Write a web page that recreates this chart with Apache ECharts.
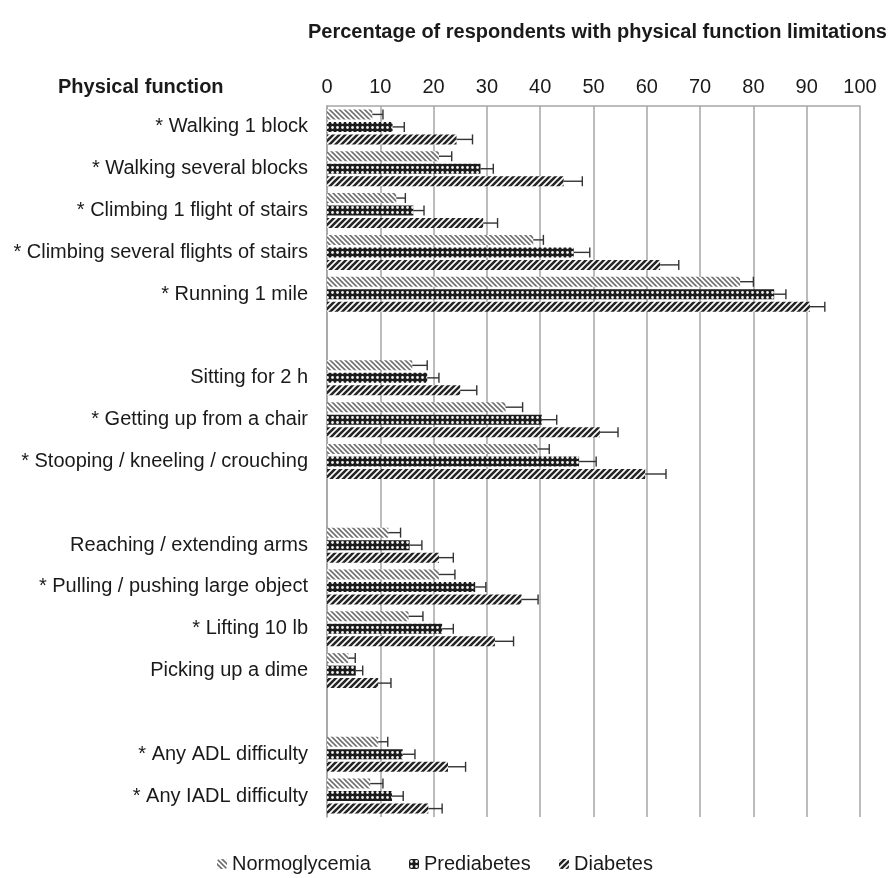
<!DOCTYPE html>
<html><head><meta charset="utf-8">
<script src="https://cdn.jsdelivr.net/npm/echarts@6/dist/echarts.min.js"></script>
<style>html,body{margin:0;padding:0;background:#fff}#c{width:892px;height:878px}</style>
</head><body><div id="c"></div>
<script>
const categories = ['* Walking 1 block','* Walking several blocks','* Climbing 1 flight of stairs','* Climbing several flights of stairs','* Running 1 mile',' ',
  'Sitting for 2 h','* Getting up from a chair','* Stooping / kneeling / crouching','  ',
  'Reaching / extending arms','* Pulling / pushing large object','* Lifting 10 lb','Picking up a dime','   ',
  '* Any ADL difficulty','* Any IADL difficulty'];
const seriesNames = ['Normoglycemia','Prediabetes','Diabetes'];
const normo    = [8.5, 21, 13, 38.7, 77.5, null, 16, 33.5, 39.5, null, 11.5, 21, 15.3, 4, null, 9.6, 8.1];
const normoErr = [2, 2.4, 1.7, 1.9, 2.5, null, 2.8, 3.2, 2.2, null, 2.3, 3, 2.7, 1.3, null, 1.8, 2.4];
const pre      = [12.3, 28.8, 16.2, 46.3, 83.9, null, 18.8, 40.3, 47.3, null, 15.5, 27.8, 21.6, 5.4, null, 14.2, 12.2];
const preErr   = [2.2, 2.4, 2, 3, 2.2, null, 2.2, 2.8, 3.2, null, 2.3, 2, 2.1, 1.3, null, 2.3, 2.1];
const dia      = [24.3, 44.4, 29.3, 62.5, 90.6, null, 25, 51.2, 59.7, null, 21, 36.5, 31.5, 9.6, null, 22.7, 19];
const diaErr   = [3, 3.5, 2.7, 3.5, 2.8, null, 3.1, 3.4, 3.9, null, 2.7, 3.1, 3.5, 2.4, null, 3.3, 2.6];
const xTicks = {min: 0, max: 100, interval: 10};

function makeCanvas(s){const c=document.createElement('canvas');c.width=s;c.height=s;return c;}
function hatch(s, color, lw, dir, bg){
  const c=makeCanvas(s), g=c.getContext('2d');
  g.fillStyle=bg; g.fillRect(0,0,s,s);
  g.strokeStyle=color; g.lineWidth=lw; g.lineCap='square';
  const segs = dir==='back'
    ? [[-1,-1,s+1,s+1],[s-1,-1,s+1,1],[-1,s-1,1,s+1]]
    : [[-1,s+1,s+1,-1],[-1,1,1,-1],[s-1,s+1,s+1,s-1]];
  segs.forEach(a=>{g.beginPath();g.moveTo(a[0],a[1]);g.lineTo(a[2],a[3]);g.stroke();});
  return c;
}
function dots(s){
  const c=makeCanvas(s), g=c.getContext('2d');
  g.fillStyle='#1c1c1c'; g.fillRect(0,0,s,s);
  g.fillStyle='#f0f0f0'; g.beginPath(); g.arc(s/2,s/2,1.4,0,Math.PI*2); g.fill();
  return c;
}
const patNormo = {image: hatch(5,'#707070',1.6,'back','#ffffff'), repeat:'repeat'};
const patPre   = {image: dots(5), repeat:'repeat'};
const patDia   = {image: hatch(6,'#262626',2.6,'fwd','#ffffff'), repeat:'repeat'};

const PITCH = 12.5;
function errSeries(vals, errs, idx){
  return {
    type:'custom', name:'err'+idx, z:10, silent:true,
    encode:{x:[1,2], y:0},
    renderItem(params, api){
      const ci=api.value(0), v=api.value(1), e=api.value(2);
      const p0=api.coord([v, ci]), p1=api.coord([v+e, ci]);
      const y=p0[1]+(idx-1)*PITCH;
      const style={stroke:'#333', lineWidth:1.4};
      return {type:'group', children:[
        {type:'line', shape:{x1:p0[0], y1:y, x2:p1[0], y2:y}, style},
        {type:'line', shape:{x1:p1[0], y1:y-5, x2:p1[0], y2:y+5}, style}
      ]};
    },
    data: vals.map((v,i)=> v==null?null:[i, v, errs[i]]).filter(d=>d)
  };
}

const font = "'Liberation Sans', Arial, sans-serif";
const legendLefts = [212, 404, 554];
const chart = echarts.init(document.getElementById('c'), null, {renderer:'canvas'});
chart.setOption({
  animation:false,
  backgroundColor:'#fff',
  textStyle:{fontFamily:font},
  title:{text:'Percentage of respondents with physical function limitations', left:303, top:17,
    textStyle:{fontSize:20, fontWeight:'bold', color:'#1a1a1a', fontFamily:font}},
  graphic:[{type:'text', left:58, top:77, style:{text:'Physical function', font:'bold 20px '+font, fill:'#1a1a1a'}}],
  legend: seriesNames.map((n,i)=>({data:[n], left:legendLefts[i], top:849, itemWidth:10, itemHeight:10,
    selectedMode:false, textStyle:{fontSize:20, color:'#1a1a1a', fontFamily:font}})),
  grid:{left:327, right:32, top:106, bottom:61, containLabel:false},
  xAxis:{type:'value', position:'top', min:xTicks.min, max:xTicks.max, interval:xTicks.interval,
    axisLine:{show:true, lineStyle:{color:'#a6a6a6', width:1.5}},
    axisTick:{show:false},
    splitLine:{show:true, lineStyle:{color:'#a6a6a6', width:1.5}},
    axisLabel:{fontSize:20, color:'#1a1a1a', margin:9, fontFamily:font}},
  yAxis:{type:'category', inverse:true, data:categories,
    axisLine:{show:true, lineStyle:{color:'#a6a6a6', width:1.5}},
    axisTick:{show:false},
    axisLabel:{fontSize:20, color:'#1a1a1a', margin:19, fontFamily:font}},
  series:[
    {type:'bar', name:seriesNames[0], data:normo, barWidth:10, barGap:'25%', itemStyle:{color:patNormo}},
    {type:'bar', name:seriesNames[1], data:pre, barWidth:10, barGap:'25%', itemStyle:{color:patPre}},
    {type:'bar', name:seriesNames[2], data:dia, barWidth:10, barGap:'25%', itemStyle:{color:patDia}},
    errSeries(normo, normoErr, 0),
    errSeries(pre, preErr, 1),
    errSeries(dia, diaErr, 2)
  ]
});
</script></body></html>
